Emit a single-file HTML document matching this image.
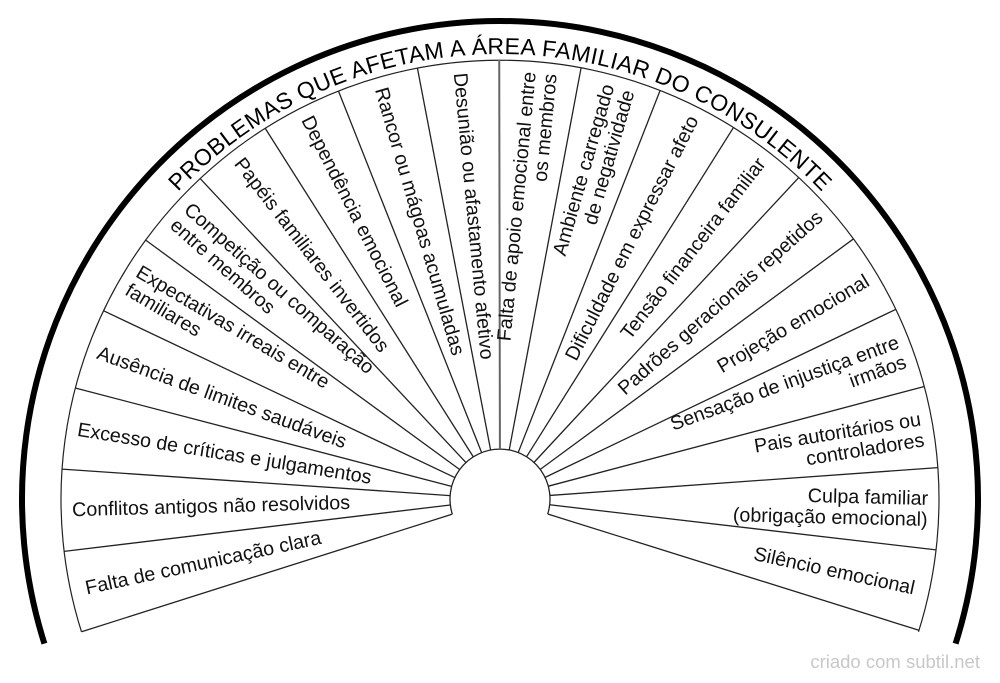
<!DOCTYPE html>
<html><head><meta charset="utf-8"><style>
html,body{margin:0;padding:0;background:#fff;width:1000px;height:683px;overflow:hidden}
svg text{font-family:"Liberation Sans",sans-serif;font-size:19.7px;fill:#111}
</style></head><body>
<svg width="1000" height="683" viewBox="0 0 1000 683" xmlns="http://www.w3.org/2000/svg">
<g transform="translate(500,499)">
<path d="M -455.6 144.6 A 478 478 0 1 1 455.6 144.6" fill="none" stroke="#000" stroke-width="6"/>
<path d="M -418.5 132.8 A 439 439 0 1 1 418.5 132.8" fill="none" stroke="#222" stroke-width="1.2"/>
<path d="M -47.7 15.1 A 50 50 0 1 1 47.7 15.1" fill="none" stroke="#222" stroke-width="1.3"/>
<g stroke="#222" stroke-width="1.3">
<line x1="50" x2="439" transform="rotate(162.4)"/>
<line x1="50" x2="439" transform="rotate(173.15)"/>
<line x1="50" x2="439" transform="rotate(183.9)"/>
<line x1="50" x2="439" transform="rotate(194.65)"/>
<line x1="50" x2="439" transform="rotate(205.4)"/>
<line x1="50" x2="439" transform="rotate(216.15)"/>
<line x1="50" x2="439" transform="rotate(226.9)"/>
<line x1="50" x2="439" transform="rotate(237.65)"/>
<line x1="50" x2="439" transform="rotate(248.4)"/>
<line x1="50" x2="439" transform="rotate(259.15)"/>
<line x1="50" x2="439" transform="rotate(269.9)" stroke="#666" stroke-width="2"/>
<line x1="50" x2="439" transform="rotate(280.65)"/>
<line x1="50" x2="439" transform="rotate(291.4)"/>
<line x1="50" x2="439" transform="rotate(302.15)"/>
<line x1="50" x2="439" transform="rotate(312.9)"/>
<line x1="50" x2="439" transform="rotate(323.65)"/>
<line x1="50" x2="439" transform="rotate(334.4)"/>
<line x1="50" x2="439" transform="rotate(345.15)"/>
<line x1="50" x2="439" transform="rotate(355.9)"/>
<line x1="50" x2="439" transform="rotate(366.65)"/>
<line x1="50" x2="439" transform="rotate(377.4)"/>
</g>
<g dominant-baseline="central">
<text transform="rotate(347.8)" x="-424" y="0">Falta de comunicação clara</text>
<text transform="rotate(358.5)" x="-428" y="0">Conflitos antigos não resolvidos</text>
<text transform="rotate(9.3)" x="-428" y="0">Excesso de críticas e julgamentos</text>
<text transform="rotate(20)" x="-428" y="0">Ausência de limites saudáveis</text>
<text transform="rotate(30.8)" x="-428" y="-10.5">Expectativas irreais entre</text>
<text transform="rotate(30.8)" x="-428" y="10.5">familiares</text>
<text transform="rotate(41.6)" x="-428" y="-10.5">Competição ou comparação</text>
<text transform="rotate(41.6)" x="-428" y="10.5">entre membros</text>
<text transform="rotate(52.3)" x="-428" y="0">Papéis familiares invertidos</text>
<text transform="rotate(63.1)" x="-428" y="0">Dependência emocional</text>
<text transform="rotate(73.8)" x="-428" y="0">Rancor ou mágoas acumuladas</text>
<text transform="rotate(84.6)" x="-428" y="0">Desunião ou afastamento afetivo</text>
</g>
<g dominant-baseline="central" text-anchor="end">
<text transform="rotate(275.4)" x="428" y="-10.5">Falta de apoio emocional entre</text>
<text transform="rotate(275.4)" x="428" y="10.5">os membros</text>
<text transform="rotate(286.1)" x="428" y="-10.5">Ambiente carregado</text>
<text transform="rotate(286.1)" x="428" y="10.5">de negatividade</text>
<text transform="rotate(296.9)" x="428" y="0">Dificuldade em expressar afeto</text>
<text transform="rotate(307.7)" x="428" y="0">Tensão financeira familiar</text>
<text transform="rotate(318.4)" x="428" y="0">Padrões geracionais repetidos</text>
<text transform="rotate(329.2)" x="428" y="0">Projeção emocional</text>
<text transform="rotate(339.9)" x="428" y="-10.5">Sensação de injustiça entre</text>
<text transform="rotate(339.9)" x="428" y="10.5">irmãos</text>
<text transform="rotate(350.7)" x="428" y="-10.5">Pais autoritários ou</text>
<text transform="rotate(350.7)" x="428" y="10.5">controladores</text>
<text transform="rotate(1.4)" x="428" y="-10.5">Culpa familiar</text>
<text transform="rotate(1.4)" x="428" y="10.5">(obrigação emocional)</text>
<text transform="rotate(12.2)" x="424" y="0">Silêncio emocional</text>
</g>
<path id="tp" d="M -445 0 A 445 445 0 0 1 445 0" fill="none"/>
<text style="font-size:23px;fill:#000"><textPath href="#tp" startOffset="50%" text-anchor="middle" textLength="720" lengthAdjust="spacing">PROBLEMAS QUE AFETAM A ÁREA FAMILIAR DO CONSULENTE</textPath></text>
</g>
<text x="980" y="668" text-anchor="end" style="font-size:18.5px;fill:#c8c8c8">criado com subtil.net</text>
</svg>
</body></html>
